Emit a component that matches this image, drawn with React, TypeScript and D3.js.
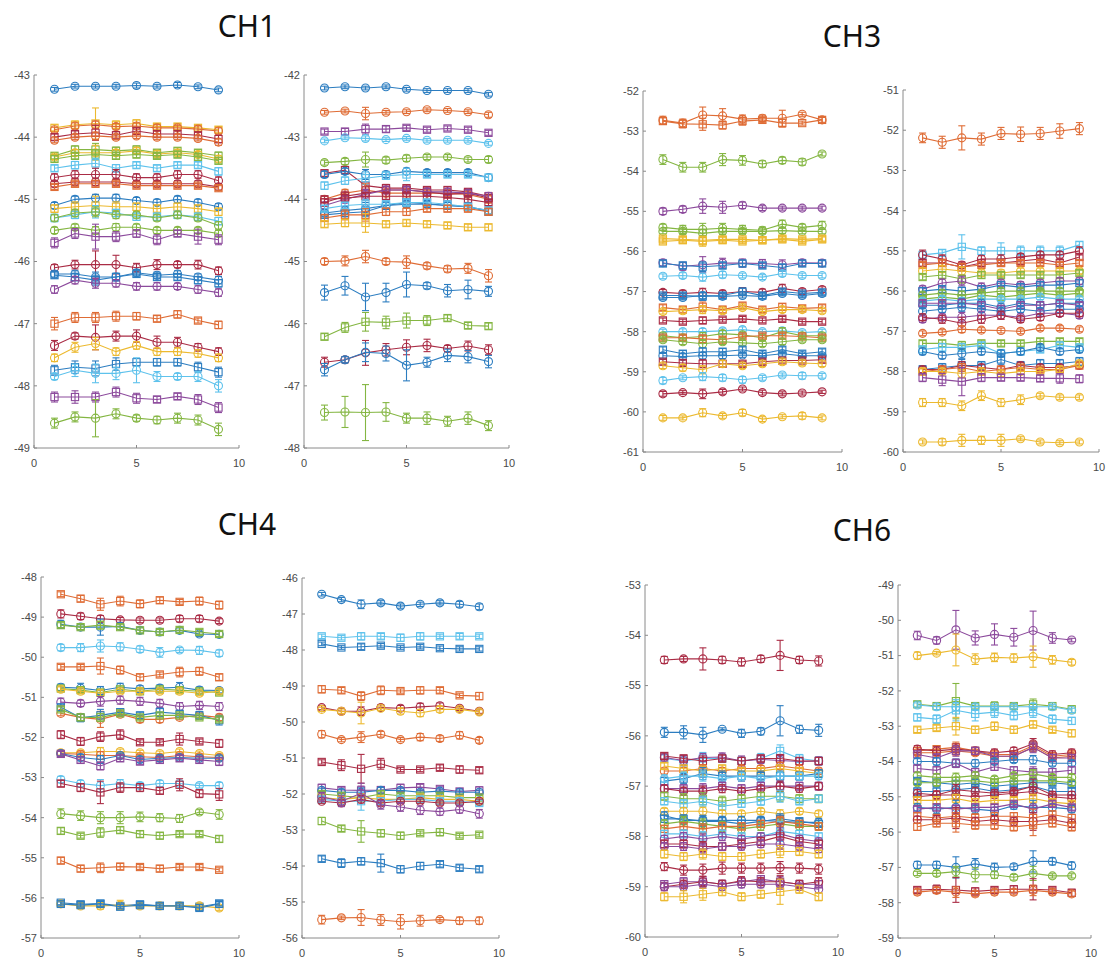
import React from 'react';
import * as d3 from 'd3';

const trials = [1, 2, 3, 4, 5, 6, 7, 8, 9];
const xTicks = [0, 5, 10];

const palette: Record<string, string> = {
  b: '#2c7dc0', o: '#df6c35', y: '#ecb92f', p: '#8c4a9c',
  g: '#84b642', c: '#5ec2ec', r: '#aa2c45',
};

// CH1 left
const ch1aColors = 'byorogygcrrobycggprbbporybcpg';
const ch1aMarks = 'osososossoosossoosoososoososo';
const ch1aMeans = [
  [-43.23, -43.18, -43.18, -43.18, -43.17, -43.18, -43.16, -43.19, -43.24],
  [-43.85, -43.8, -43.78, -43.8, -43.78, -43.83, -43.83, -43.85, -43.88],
  [-43.88, -43.82, -43.8, -43.83, -43.82, -43.85, -43.85, -43.87, -43.9],
  [-44.0, -43.95, -43.93, -43.97, -43.9, -43.95, -43.95, -43.97, -44.03],
  [-44.05, -44.0, -43.98, -44.0, -43.98, -44.0, -44.0, -44.02, -44.08],
  [-44.3, -44.2, -44.2, -44.22, -44.2, -44.25, -44.22, -44.25, -44.3],
  [-44.32, -44.25, -44.25, -44.25, -44.22, -44.27, -44.25, -44.28, -44.35],
  [-44.35, -44.3, -44.28, -44.3, -44.28, -44.3, -44.28, -44.32, -44.38],
  [-44.5, -44.45, -44.42, -44.5, -44.45, -44.5, -44.45, -44.45, -44.55],
  [-44.65, -44.6, -44.6, -44.6, -44.65, -44.65, -44.6, -44.6, -44.7],
  [-44.75, -44.72, -44.72, -44.72, -44.75, -44.75, -44.75, -44.75, -44.8],
  [-44.8, -44.75, -44.75, -44.75, -44.78, -44.78, -44.78, -44.78, -44.82],
  [-45.1, -45.0, -44.98, -44.98, -45.02, -45.05, -45.0, -45.05, -45.12],
  [-45.15, -45.12, -45.1, -45.12, -45.12, -45.15, -45.12, -45.15, -45.2],
  [-45.3, -45.25, -45.2, -45.22, -45.28, -45.28, -45.25, -45.28, -45.35],
  [-45.3, -45.22, -45.2, -45.25, -45.25, -45.3, -45.25, -45.3, -45.42],
  [-45.5, -45.45, -45.5, -45.45, -45.45, -45.5, -45.5, -45.5, -45.55],
  [-45.7, -45.55, -45.6, -45.6, -45.55, -45.65, -45.55, -45.6, -45.65],
  [-46.1, -46.05, -46.05, -46.05, -46.1, -46.05, -46.05, -46.05, -46.15],
  [-46.2, -46.2, -46.25, -46.25, -46.18, -46.22, -46.2, -46.25, -46.3],
  [-46.22, -46.25, -46.3, -46.25, -46.2, -46.25, -46.25, -46.3, -46.35],
  [-46.45, -46.3, -46.35, -46.35, -46.4, -46.4, -46.4, -46.45, -46.5],
  [-47.0, -46.9, -46.9, -46.88, -46.88, -46.92, -46.85, -46.95, -47.02],
  [-47.35, -47.2, -47.22, -47.2, -47.2, -47.3, -47.3, -47.38, -47.45],
  [-47.55, -47.38, -47.32, -47.45, -47.35, -47.45, -47.45, -47.48, -47.55],
  [-47.75, -47.7, -47.72, -47.65, -47.62, -47.62, -47.62, -47.7, -47.78],
  [-47.85, -47.75, -47.8, -47.8, -47.75, -47.85, -47.85, -47.85, -48.0],
  [-48.18, -48.18, -48.18, -48.1, -48.2, -48.22, -48.17, -48.22, -48.35],
  [-48.6, -48.5, -48.52, -48.45, -48.52, -48.55, -48.52, -48.55, -48.7],
];
const ch1aErrs = [
  [0.03, 0.03, 0.03, 0.03, 0.04, 0.03, 0.04, 0.03, 0.03],
  [0.05, 0.06, 0.25, 0.06, 0.06, 0.05, 0.05, 0.05, 0.05],
  [0.04, 0.05, 0.06, 0.05, 0.05, 0.05, 0.04, 0.05, 0.05],
  [0.05, 0.05, 0.12, 0.06, 0.05, 0.05, 0.05, 0.05, 0.06],
  [0.04, 0.04, 0.06, 0.04, 0.04, 0.04, 0.04, 0.04, 0.05],
  [0.05, 0.06, 0.1, 0.06, 0.06, 0.05, 0.05, 0.05, 0.06],
  [0.04, 0.05, 0.12, 0.05, 0.05, 0.05, 0.05, 0.05, 0.05],
  [0.05, 0.05, 0.08, 0.05, 0.05, 0.04, 0.05, 0.05, 0.05],
  [0.05, 0.06, 0.08, 0.06, 0.05, 0.05, 0.05, 0.05, 0.06],
  [0.06, 0.06, 0.1, 0.08, 0.06, 0.06, 0.06, 0.06, 0.06],
  [0.05, 0.05, 0.06, 0.05, 0.05, 0.05, 0.05, 0.05, 0.05],
  [0.04, 0.04, 0.05, 0.04, 0.04, 0.04, 0.04, 0.04, 0.04],
  [0.05, 0.05, 0.06, 0.06, 0.05, 0.05, 0.05, 0.05, 0.05],
  [0.06, 0.08, 0.15, 0.08, 0.06, 0.06, 0.06, 0.06, 0.06],
  [0.06, 0.06, 0.1, 0.06, 0.06, 0.06, 0.06, 0.06, 0.06],
  [0.05, 0.06, 0.08, 0.06, 0.05, 0.05, 0.05, 0.05, 0.06],
  [0.05, 0.05, 0.06, 0.06, 0.05, 0.05, 0.05, 0.05, 0.05],
  [0.08, 0.08, 0.2, 0.08, 0.06, 0.08, 0.05, 0.12, 0.08],
  [0.05, 0.07, 0.22, 0.15, 0.07, 0.08, 0.05, 0.07, 0.06],
  [0.05, 0.05, 0.08, 0.06, 0.05, 0.05, 0.05, 0.05, 0.06],
  [0.05, 0.06, 0.08, 0.06, 0.05, 0.05, 0.05, 0.06, 0.06],
  [0.06, 0.06, 0.08, 0.06, 0.06, 0.06, 0.05, 0.06, 0.06],
  [0.1, 0.08, 0.08, 0.08, 0.06, 0.05, 0.06, 0.04, 0.06],
  [0.08, 0.05, 0.2, 0.08, 0.1, 0.1, 0.08, 0.06, 0.06],
  [0.06, 0.08, 0.1, 0.06, 0.06, 0.06, 0.06, 0.06, 0.06],
  [0.08, 0.1, 0.12, 0.1, 0.06, 0.06, 0.06, 0.08, 0.08],
  [0.05, 0.1, 0.15, 0.1, 0.2, 0.08, 0.05, 0.08, 0.1],
  [0.08, 0.1, 0.08, 0.08, 0.08, 0.05, 0.05, 0.08, 0.08],
  [0.08, 0.08, 0.3, 0.08, 0.05, 0.06, 0.08, 0.08, 0.1],
];

// CH1 right
const ch1bColors = 'bopcgrbcorprbbcoyobgrbg';
const ch1bMarks = 'oosoososososossssoosooo';
const ch1bMeans = [
  [-42.21, -42.19, -42.21, -42.19, -42.23, -42.25, -42.25, -42.25, -42.31],
  [-42.6, -42.58, -42.62, -42.6, -42.59, -42.56, -42.57, -42.59, -42.64],
  [-42.91, -42.91, -42.87, -42.87, -42.85, -42.88, -42.86, -42.88, -42.93],
  [-43.06, -43.01, -43.02, -43.04, -43.02, -43.05, -43.05, -43.05, -43.1],
  [-43.41, -43.39, -43.36, -43.37, -43.34, -43.32, -43.32, -43.36, -43.36],
  [-43.58, -43.53, -43.78, -43.82, -43.82, -43.85, -43.85, -43.88, -43.95],
  [-43.6, -43.55, -43.6, -43.6, -43.55, -43.57, -43.57, -43.57, -43.65],
  [-43.78, -43.7, -43.66, -43.62, -43.6, -43.6, -43.6, -43.6, -43.65],
  [-44.0, -43.9, -43.85, -43.9, -43.9, -43.9, -43.9, -43.92, -44.0],
  [-44.05, -43.95, -43.9, -43.85, -43.85, -43.88, -43.92, -43.9, -43.98],
  [-44.1, -44.0, -43.92, -43.85, -43.85, -43.88, -43.88, -43.9, -43.95],
  [-44.0, -43.98, -43.95, -43.95, -43.95, -43.95, -43.97, -44.0, -44.05],
  [-44.22, -44.18, -44.15, -44.1, -44.08, -44.08, -44.1, -44.12, -44.18],
  [-44.25, -44.22, -44.2, -44.1, -44.05, -44.07, -44.1, -44.12, -44.2],
  [-44.15, -44.1, -44.08, -44.08, -44.05, -44.05, -44.08, -44.12, -44.18],
  [-44.3, -44.25, -44.25, -44.2, -44.2, -44.15, -44.15, -44.15, -44.2],
  [-44.4, -44.38, -44.38, -44.4, -44.38, -44.4, -44.42, -44.45, -44.45],
  [-45.0, -44.99, -44.92, -45.0, -45.01, -45.07, -45.12, -45.11, -45.23],
  [-45.5, -45.39, -45.57, -45.5, -45.37, -45.39, -45.47, -45.45, -45.48],
  [-46.21, -46.06, -45.97, -45.98, -45.95, -45.95, -45.91, -46.03, -46.04],
  [-46.62, -46.58, -46.47, -46.42, -46.38, -46.35, -46.4, -46.36, -46.42],
  [-46.74, -46.58, -46.46, -46.48, -46.67, -46.62, -46.51, -46.53, -46.61],
  [-47.43, -47.42, -47.43, -47.42, -47.52, -47.52, -47.57, -47.52, -47.64],
];
const ch1bErrs = [
  [0.03, 0.03, 0.03, 0.03, 0.03, 0.03, 0.03, 0.03, 0.03],
  [0.03, 0.03, 0.1, 0.03, 0.03, 0.03, 0.03, 0.03, 0.04],
  [0.04, 0.05, 0.08, 0.05, 0.04, 0.04, 0.04, 0.04, 0.04],
  [0.03, 0.03, 0.04, 0.03, 0.03, 0.03, 0.03, 0.03, 0.03],
  [0.04, 0.05, 0.12, 0.05, 0.05, 0.04, 0.04, 0.04, 0.05],
  [0.05, 0.06, 0.1, 0.06, 0.05, 0.05, 0.05, 0.05, 0.06],
  [0.05, 0.05, 0.08, 0.05, 0.05, 0.05, 0.05, 0.05, 0.05],
  [0.06, 0.06, 0.1, 0.06, 0.1, 0.05, 0.05, 0.05, 0.05],
  [0.05, 0.06, 0.1, 0.06, 0.06, 0.05, 0.05, 0.05, 0.06],
  [0.06, 0.08, 0.1, 0.06, 0.06, 0.06, 0.06, 0.06, 0.06],
  [0.05, 0.06, 0.08, 0.06, 0.05, 0.05, 0.05, 0.05, 0.06],
  [0.05, 0.05, 0.06, 0.05, 0.05, 0.05, 0.05, 0.05, 0.05],
  [0.05, 0.06, 0.1, 0.06, 0.05, 0.05, 0.05, 0.05, 0.05],
  [0.05, 0.06, 0.08, 0.06, 0.05, 0.05, 0.05, 0.05, 0.05],
  [0.05, 0.05, 0.08, 0.05, 0.05, 0.05, 0.05, 0.05, 0.05],
  [0.05, 0.08, 0.1, 0.06, 0.06, 0.05, 0.05, 0.05, 0.05],
  [0.05, 0.06, 0.15, 0.05, 0.05, 0.05, 0.05, 0.05, 0.05],
  [0.05, 0.08, 0.1, 0.05, 0.1, 0.05, 0.05, 0.08, 0.1],
  [0.12, 0.15, 0.22, 0.15, 0.2, 0.05, 0.1, 0.15, 0.08],
  [0.05, 0.08, 0.15, 0.1, 0.12, 0.08, 0.05, 0.05, 0.05],
  [0.08, 0.05, 0.2, 0.1, 0.12, 0.1, 0.05, 0.08, 0.08],
  [0.1, 0.05, 0.15, 0.12, 0.25, 0.08, 0.1, 0.1, 0.1],
  [0.12, 0.25, 0.45, 0.15, 0.08, 0.1, 0.08, 0.1, 0.08],
];

// CH3 left
const ch3aColors = 'oogpggyypbcrbboyrcgogbbrycry';
const ch3aMarks = 'osoooossosoosososoosososoooo';
const ch3aMeans = [
  [-52.73, -52.8, -52.6, -52.62, -52.7, -52.68, -52.68, -52.58, -52.72],
  [-52.75, -52.82, -52.83, -52.85, -52.75, -52.72, -52.8, -52.8, -52.72],
  [-53.71, -53.9, -53.9, -53.71, -53.73, -53.82, -53.73, -53.77, -53.57],
  [-55.0, -54.95, -54.87, -54.9, -54.85, -54.92, -54.92, -54.92, -54.92],
  [-55.4, -55.45, -55.45, -55.42, -55.45, -55.47, -55.32, -55.4, -55.35],
  [-55.5, -55.5, -55.55, -55.5, -55.5, -55.5, -55.48, -55.5, -55.5],
  [-55.68, -55.7, -55.72, -55.7, -55.7, -55.72, -55.68, -55.7, -55.68],
  [-55.75, -55.72, -55.75, -55.72, -55.75, -55.72, -55.7, -55.75, -55.7],
  [-56.28, -56.37, -56.33, -56.29, -56.29, -56.3, -56.33, -56.28, -56.29],
  [-56.3, -56.35, -56.38, -56.35, -56.3, -56.35, -56.4, -56.3, -56.3],
  [-56.62, -56.6, -56.64, -56.58, -56.6, -56.64, -56.55, -56.6, -56.6],
  [-57.02, -57.05, -57.02, -57.05, -57.0, -57.02, -56.92, -57.0, -56.95],
  [-57.1, -57.1, -57.12, -57.1, -57.0, -57.1, -57.0, -57.05, -57.02],
  [-57.15, -57.15, -57.1, -57.12, -57.1, -57.12, -57.05, -57.1, -57.05],
  [-57.4, -57.45, -57.38, -57.45, -57.35, -57.45, -57.38, -57.42, -57.4],
  [-57.5, -57.48, -57.45, -57.48, -57.4, -57.5, -57.45, -57.45, -57.48],
  [-57.72, -57.75, -57.72, -57.7, -57.68, -57.72, -57.68, -57.75, -57.75],
  [-58.0, -58.0, -58.0, -57.98, -57.95, -58.0, -57.98, -58.02, -58.0],
  [-58.1, -58.15, -58.12, -58.05, -58.08, -58.15, -58.0, -58.1, -58.1],
  [-58.15, -58.15, -58.18, -58.2, -58.12, -58.1, -58.1, -58.12, -58.15],
  [-58.2, -58.25, -58.3, -58.25, -58.28, -58.3, -58.25, -58.2, -58.2],
  [-58.45, -58.55, -58.5, -58.5, -58.45, -58.55, -58.45, -58.55, -58.5],
  [-58.6, -58.62, -58.6, -58.6, -58.58, -58.6, -58.55, -58.6, -58.6],
  [-58.75, -58.78, -58.8, -58.8, -58.8, -58.75, -58.72, -58.72, -58.7],
  [-58.85, -58.9, -58.95, -58.8, -58.85, -58.8, -58.75, -58.78, -58.8],
  [-59.22, -59.15, -59.12, -59.15, -59.2, -59.15, -59.08, -59.1, -59.1],
  [-59.55, -59.52, -59.55, -59.5, -59.43, -59.52, -59.55, -59.53, -59.5],
  [-60.15, -60.15, -60.02, -60.1, -60.02, -60.18, -60.12, -60.1, -60.15],
];
const ch3aErrs = [
  [0.1, 0.1, 0.2, 0.18, 0.1, 0.08, 0.2, 0.05, 0.08],
  [0.08, 0.1, 0.15, 0.1, 0.1, 0.06, 0.1, 0.05, 0.06],
  [0.12, 0.12, 0.12, 0.15, 0.12, 0.08, 0.08, 0.08, 0.05],
  [0.08, 0.08, 0.18, 0.15, 0.08, 0.06, 0.05, 0.05, 0.05],
  [0.08, 0.1, 0.15, 0.12, 0.1, 0.08, 0.1, 0.08, 0.1],
  [0.06, 0.08, 0.1, 0.08, 0.07, 0.06, 0.07, 0.06, 0.06],
  [0.06, 0.06, 0.1, 0.06, 0.06, 0.06, 0.06, 0.06, 0.06],
  [0.06, 0.08, 0.12, 0.08, 0.06, 0.06, 0.06, 0.06, 0.06],
  [0.08, 0.1, 0.2, 0.12, 0.1, 0.1, 0.12, 0.08, 0.08],
  [0.07, 0.08, 0.12, 0.08, 0.08, 0.07, 0.08, 0.07, 0.07],
  [0.06, 0.07, 0.1, 0.08, 0.06, 0.06, 0.07, 0.06, 0.06],
  [0.07, 0.08, 0.1, 0.08, 0.1, 0.08, 0.1, 0.07, 0.07],
  [0.06, 0.07, 0.1, 0.07, 0.08, 0.07, 0.07, 0.06, 0.06],
  [0.06, 0.06, 0.08, 0.06, 0.06, 0.06, 0.06, 0.06, 0.06],
  [0.07, 0.08, 0.12, 0.08, 0.07, 0.07, 0.08, 0.07, 0.07],
  [0.06, 0.07, 0.1, 0.07, 0.06, 0.06, 0.07, 0.06, 0.06],
  [0.06, 0.06, 0.08, 0.06, 0.06, 0.06, 0.06, 0.06, 0.06],
  [0.06, 0.07, 0.08, 0.07, 0.07, 0.06, 0.07, 0.06, 0.06],
  [0.07, 0.08, 0.1, 0.08, 0.07, 0.07, 0.1, 0.07, 0.07],
  [0.06, 0.06, 0.1, 0.06, 0.06, 0.06, 0.06, 0.06, 0.06],
  [0.06, 0.07, 0.1, 0.07, 0.06, 0.07, 0.07, 0.06, 0.06],
  [0.07, 0.08, 0.1, 0.08, 0.07, 0.08, 0.07, 0.07, 0.07],
  [0.06, 0.07, 0.08, 0.07, 0.06, 0.06, 0.06, 0.06, 0.06],
  [0.06, 0.07, 0.1, 0.08, 0.06, 0.06, 0.06, 0.06, 0.06],
  [0.07, 0.08, 0.1, 0.08, 0.07, 0.07, 0.07, 0.07, 0.07],
  [0.08, 0.05, 0.1, 0.08, 0.08, 0.06, 0.05, 0.08, 0.06],
  [0.06, 0.05, 0.12, 0.06, 0.05, 0.06, 0.05, 0.05, 0.04],
  [0.06, 0.05, 0.1, 0.06, 0.08, 0.06, 0.05, 0.08, 0.05],
];

// CH3 right
const ch3bColors = 'ocrroygpbggcbpbprogcbbroypyy';
const ch3bMarks = 'osossosososoosoooossosososoo';
const ch3bMeans = [
  [-52.19, -52.3, -52.19, -52.22, -52.08, -52.1, -52.08, -52.02, -51.96],
  [-55.1, -55.05, -54.9, -55.0, -55.0, -55.0, -55.0, -55.0, -54.85],
  [-55.1, -55.2, -55.35, -55.2, -55.2, -55.15, -55.1, -55.1, -55.0],
  [-55.3, -55.3, -55.4, -55.3, -55.3, -55.25, -55.2, -55.3, -55.15],
  [-55.35, -55.3, -55.4, -55.35, -55.3, -55.3, -55.3, -55.35, -55.3],
  [-55.5, -55.45, -55.5, -55.55, -55.55, -55.5, -55.5, -55.5, -55.5],
  [-55.65, -55.6, -55.7, -55.6, -55.6, -55.6, -55.6, -55.6, -55.55],
  [-55.95, -55.8, -55.75, -55.9, -55.8, -55.85, -55.8, -55.75, -55.75],
  [-56.0, -55.95, -56.0, -55.95, -55.85, -55.9, -55.85, -55.85, -55.8],
  [-56.1, -56.05, -56.1, -56.05, -56.0, -56.0, -56.0, -56.0, -56.0],
  [-56.2, -56.15, -56.2, -56.1, -56.15, -56.1, -56.05, -56.1, -56.05],
  [-56.25, -56.2, -56.25, -56.2, -56.2, -56.2, -56.15, -56.2, -56.2],
  [-56.35, -56.35, -56.3, -56.3, -56.4, -56.3, -56.35, -56.3, -56.3],
  [-56.3, -56.3, -56.3, -56.35, -56.45, -56.35, -56.35, -56.3, -56.35],
  [-56.5, -56.45, -56.4, -56.45, -56.5, -56.45, -56.5, -56.45, -56.45],
  [-56.7, -56.65, -56.65, -56.6, -56.6, -56.65, -56.55, -56.55, -56.6],
  [-56.65, -56.7, -56.8, -56.7, -56.6, -56.7, -56.65, -56.55, -56.55],
  [-57.05, -57.02, -56.95, -56.97, -56.98, -57.0, -56.92, -56.92, -56.95],
  [-57.3, -57.3, -57.35, -57.3, -57.3, -57.3, -57.25, -57.25, -57.25],
  [-57.45, -57.4, -57.4, -57.35, -57.55, -57.5, -57.45, -57.35, -57.4],
  [-57.5, -57.6, -57.55, -57.5, -57.55, -57.5, -57.4, -57.5, -57.45],
  [-57.95, -57.9, -57.85, -57.85, -57.7, -57.85, -57.8, -57.8, -57.75],
  [-57.95, -57.95, -57.85, -57.9, -57.95, -57.85, -57.9, -57.9, -57.85],
  [-58.0, -57.95, -57.9, -58.0, -57.95, -57.9, -57.95, -57.95, -57.85],
  [-58.0, -58.0, -58.05, -58.0, -58.05, -58.0, -58.0, -57.95, -57.8],
  [-58.15, -58.2, -58.25, -58.15, -58.15, -58.15, -58.17, -58.17, -58.18],
  [-58.77, -58.77, -58.85, -58.6, -58.77, -58.7, -58.6, -58.64, -58.64],
  [-59.75, -59.75, -59.71, -59.71, -59.71, -59.67, -59.75, -59.77, -59.75],
];
const ch3bErrs = [
  [0.12, 0.15, 0.3, 0.15, 0.15, 0.18, 0.15, 0.18, 0.15],
  [0.08, 0.08, 0.3, 0.1, 0.2, 0.12, 0.12, 0.12, 0.08],
  [0.12, 0.1, 0.08, 0.08, 0.1, 0.08, 0.08, 0.08, 0.1],
  [0.08, 0.08, 0.1, 0.08, 0.08, 0.08, 0.08, 0.08, 0.08],
  [0.06, 0.07, 0.08, 0.07, 0.06, 0.06, 0.06, 0.06, 0.06],
  [0.07, 0.08, 0.1, 0.08, 0.08, 0.07, 0.07, 0.07, 0.07],
  [0.07, 0.08, 0.1, 0.08, 0.07, 0.07, 0.07, 0.07, 0.07],
  [0.08, 0.1, 0.12, 0.1, 0.08, 0.08, 0.08, 0.08, 0.08],
  [0.08, 0.08, 0.1, 0.08, 0.08, 0.08, 0.08, 0.08, 0.08],
  [0.07, 0.07, 0.1, 0.08, 0.07, 0.07, 0.07, 0.07, 0.07],
  [0.07, 0.08, 0.1, 0.08, 0.07, 0.07, 0.07, 0.07, 0.07],
  [0.06, 0.07, 0.08, 0.07, 0.06, 0.06, 0.06, 0.06, 0.06],
  [0.08, 0.08, 0.12, 0.08, 0.1, 0.08, 0.08, 0.08, 0.08],
  [0.07, 0.08, 0.1, 0.08, 0.1, 0.08, 0.08, 0.07, 0.07],
  [0.08, 0.08, 0.1, 0.08, 0.08, 0.08, 0.08, 0.08, 0.08],
  [0.08, 0.08, 0.12, 0.1, 0.1, 0.08, 0.08, 0.08, 0.08],
  [0.08, 0.1, 0.15, 0.1, 0.1, 0.08, 0.08, 0.08, 0.08],
  [0.06, 0.06, 0.08, 0.06, 0.06, 0.06, 0.06, 0.06, 0.06],
  [0.07, 0.08, 0.1, 0.08, 0.07, 0.07, 0.07, 0.07, 0.07],
  [0.08, 0.1, 0.1, 0.08, 0.1, 0.08, 0.08, 0.08, 0.08],
  [0.08, 0.08, 0.12, 0.08, 0.08, 0.08, 0.08, 0.08, 0.08],
  [0.1, 0.1, 0.15, 0.1, 0.12, 0.1, 0.1, 0.1, 0.1],
  [0.08, 0.08, 0.1, 0.08, 0.08, 0.08, 0.08, 0.08, 0.08],
  [0.07, 0.07, 0.1, 0.07, 0.07, 0.07, 0.07, 0.07, 0.07],
  [0.07, 0.07, 0.1, 0.07, 0.07, 0.07, 0.07, 0.07, 0.07],
  [0.1, 0.15, 0.35, 0.1, 0.08, 0.08, 0.08, 0.12, 0.1],
  [0.1, 0.1, 0.12, 0.12, 0.1, 0.12, 0.06, 0.06, 0.06],
  [0.05, 0.08, 0.15, 0.1, 0.15, 0.05, 0.05, 0.05, 0.05],
];

// CH4 left
const ch4aColors = 'orbgcobgypobgryobpcrggobyb';
const ch4aMarks = 'soosososooosssooosososssos';
const ch4aMeans = [
  [-48.43, -48.54, -48.68, -48.6, -48.67, -48.58, -48.62, -48.6, -48.7],
  [-48.92, -48.98, -49.04, -49.07, -49.08, -49.08, -49.04, -49.04, -49.1],
  [-49.18, -49.25, -49.25, -49.23, -49.33, -49.37, -49.33, -49.42, -49.43],
  [-49.2, -49.25, -49.2, -49.25, -49.33, -49.37, -49.32, -49.37, -49.42],
  [-49.76, -49.76, -49.72, -49.74, -49.8, -49.88, -49.82, -49.83, -49.9],
  [-50.24, -50.24, -50.22, -50.32, -50.5, -50.43, -50.37, -50.35, -50.5],
  [-50.75, -50.77, -50.83, -50.75, -50.79, -50.77, -50.75, -50.82, -50.83],
  [-50.78, -50.82, -50.88, -50.8, -50.85, -50.8, -50.82, -50.85, -50.88],
  [-50.8, -50.85, -50.9, -50.85, -50.85, -50.85, -50.85, -50.9, -50.85],
  [-51.12, -51.15, -51.1, -51.07, -51.1, -51.15, -51.23, -51.2, -51.23],
  [-51.4, -51.5, -51.55, -51.42, -51.55, -51.55, -51.5, -51.45, -51.5],
  [-51.25, -51.51, -51.45, -51.37, -51.45, -51.37, -51.41, -51.45, -51.57],
  [-51.3, -51.5, -51.5, -51.4, -51.5, -51.45, -51.45, -51.5, -51.55],
  [-51.93, -52.1, -51.98, -51.93, -52.12, -52.12, -52.04, -52.1, -52.15],
  [-52.38, -52.38, -52.35, -52.35, -52.38, -52.4, -52.35, -52.4, -52.45],
  [-52.4, -52.42, -52.45, -52.45, -52.48, -52.5, -52.45, -52.48, -52.5],
  [-52.4, -52.5, -52.55, -52.45, -52.55, -52.52, -52.5, -52.52, -52.52],
  [-52.41, -52.56, -52.71, -52.52, -52.6, -52.56, -52.52, -52.56, -52.6],
  [-53.05, -53.15, -53.2, -53.15, -53.2, -53.15, -53.15, -53.2, -53.2],
  [-53.15, -53.25, -53.37, -53.25, -53.25, -53.33, -53.18, -53.4, -53.42],
  [-53.9, -53.95, -54.0, -54.0, -53.98, -54.0, -54.02, -53.86, -53.92],
  [-54.33, -54.45, -54.37, -54.31, -54.41, -54.45, -54.41, -54.41, -54.53],
  [-55.07, -55.27, -55.25, -55.22, -55.23, -55.27, -55.23, -55.23, -55.3],
  [-56.12, -56.16, -56.14, -56.2, -56.16, -56.2, -56.2, -56.22, -56.14],
  [-56.15, -56.2, -56.2, -56.18, -56.2, -56.2, -56.2, -56.2, -56.25],
  [-56.15, -56.18, -56.15, -56.22, -56.18, -56.2, -56.2, -56.25, -56.15],
];
const ch4aErrs = [
  [0.06, 0.08, 0.15, 0.12, 0.1, 0.08, 0.06, 0.1, 0.1],
  [0.1, 0.08, 0.08, 0.06, 0.06, 0.06, 0.08, 0.08, 0.06],
  [0.1, 0.06, 0.2, 0.08, 0.08, 0.08, 0.06, 0.06, 0.08],
  [0.06, 0.06, 0.1, 0.06, 0.06, 0.06, 0.06, 0.06, 0.06],
  [0.08, 0.1, 0.15, 0.1, 0.08, 0.12, 0.06, 0.1, 0.08],
  [0.06, 0.06, 0.2, 0.1, 0.08, 0.06, 0.12, 0.1, 0.08],
  [0.08, 0.12, 0.1, 0.1, 0.08, 0.08, 0.12, 0.08, 0.06],
  [0.06, 0.06, 0.08, 0.06, 0.06, 0.06, 0.06, 0.06, 0.06],
  [0.06, 0.06, 0.08, 0.06, 0.06, 0.06, 0.06, 0.06, 0.06],
  [0.1, 0.08, 0.12, 0.1, 0.1, 0.1, 0.1, 0.1, 0.1],
  [0.06, 0.08, 0.2, 0.06, 0.08, 0.08, 0.06, 0.06, 0.08],
  [0.08, 0.1, 0.15, 0.08, 0.08, 0.1, 0.08, 0.1, 0.12],
  [0.06, 0.08, 0.1, 0.06, 0.06, 0.06, 0.06, 0.06, 0.06],
  [0.1, 0.1, 0.12, 0.12, 0.06, 0.06, 0.15, 0.06, 0.1],
  [0.06, 0.06, 0.1, 0.06, 0.06, 0.06, 0.06, 0.06, 0.06],
  [0.06, 0.06, 0.1, 0.06, 0.06, 0.06, 0.06, 0.06, 0.06],
  [0.06, 0.08, 0.1, 0.06, 0.08, 0.08, 0.06, 0.06, 0.06],
  [0.06, 0.08, 0.1, 0.08, 0.08, 0.08, 0.08, 0.08, 0.1],
  [0.08, 0.08, 0.15, 0.1, 0.08, 0.08, 0.06, 0.06, 0.08],
  [0.08, 0.1, 0.28, 0.12, 0.1, 0.08, 0.15, 0.1, 0.15],
  [0.12, 0.12, 0.15, 0.15, 0.12, 0.1, 0.1, 0.06, 0.12],
  [0.08, 0.06, 0.12, 0.08, 0.08, 0.08, 0.06, 0.06, 0.08],
  [0.08, 0.08, 0.12, 0.08, 0.06, 0.08, 0.06, 0.06, 0.05],
  [0.05, 0.05, 0.06, 0.05, 0.05, 0.05, 0.05, 0.05, 0.05],
  [0.06, 0.06, 0.08, 0.12, 0.06, 0.06, 0.06, 0.06, 0.06],
  [0.05, 0.05, 0.06, 0.05, 0.05, 0.05, 0.05, 0.08, 0.05],
];

// CH4 right
const ch4bColors = 'bcboryorpbgycrpgbo';
const ch4bMarks = 'osssooossosssoosso';
const ch4bMeans = [
  [-46.45, -46.6, -46.73, -46.69, -46.78, -46.73, -46.69, -46.73, -46.8],
  [-47.62, -47.66, -47.62, -47.62, -47.66, -47.62, -47.62, -47.62, -47.62],
  [-47.83, -47.93, -47.91, -47.88, -47.93, -47.91, -47.95, -47.97, -47.97],
  [-49.09, -49.12, -49.28, -49.12, -49.14, -49.12, -49.12, -49.26, -49.28],
  [-49.6, -49.7, -49.7, -49.6, -49.62, -49.58, -49.55, -49.62, -49.7],
  [-49.65, -49.7, -49.75, -49.62, -49.7, -49.75, -49.65, -49.65, -49.72],
  [-50.34, -50.49, -50.42, -50.34, -50.49, -50.42, -50.46, -50.37, -50.51],
  [-51.11, -51.2, -51.3, -51.16, -51.32, -51.32, -51.27, -51.32, -51.34],
  [-51.83, -51.89, -51.9, -51.89, -51.83, -51.81, -51.86, -51.93, -51.9],
  [-51.9, -51.95, -51.95, -51.9, -51.9, -51.95, -51.92, -51.95, -51.95],
  [-52.0, -52.05, -52.1, -52.0, -52.05, -52.05, -52.05, -52.1, -52.1],
  [-52.1, -52.15, -52.1, -52.15, -52.15, -52.1, -52.15, -52.15, -52.2],
  [-52.15, -52.2, -52.2, -52.2, -52.15, -52.15, -52.2, -52.2, -52.25],
  [-52.2, -52.25, -52.15, -52.25, -52.2, -52.2, -52.25, -52.25, -52.2],
  [-52.08, -52.2, -51.98, -52.3, -52.36, -52.45, -52.49, -52.43, -52.55],
  [-52.75, -52.96, -53.04, -53.09, -53.16, -53.09, -53.06, -53.16, -53.13],
  [-53.8, -53.92, -53.87, -53.92, -54.09, -54.0, -53.95, -54.05, -54.09],
  [-55.49, -55.44, -55.43, -55.5, -55.55, -55.52, -55.49, -55.52, -55.52],
];
const ch4bErrs = [
  [0.05, 0.06, 0.12, 0.06, 0.06, 0.06, 0.06, 0.08, 0.08],
  [0.06, 0.06, 0.1, 0.08, 0.1, 0.1, 0.06, 0.08, 0.06],
  [0.05, 0.05, 0.08, 0.06, 0.05, 0.06, 0.06, 0.06, 0.06],
  [0.1, 0.08, 0.12, 0.12, 0.06, 0.1, 0.08, 0.06, 0.1],
  [0.06, 0.08, 0.12, 0.08, 0.08, 0.1, 0.08, 0.06, 0.06],
  [0.06, 0.06, 0.3, 0.06, 0.08, 0.1, 0.08, 0.06, 0.06],
  [0.1, 0.06, 0.15, 0.08, 0.06, 0.1, 0.08, 0.1, 0.08],
  [0.06, 0.15, 0.4, 0.15, 0.06, 0.06, 0.08, 0.1, 0.08],
  [0.1, 0.08, 0.2, 0.08, 0.1, 0.08, 0.06, 0.08, 0.1],
  [0.06, 0.08, 0.12, 0.08, 0.06, 0.06, 0.06, 0.06, 0.06],
  [0.06, 0.08, 0.1, 0.08, 0.06, 0.06, 0.06, 0.06, 0.06],
  [0.06, 0.08, 0.1, 0.08, 0.06, 0.06, 0.06, 0.06, 0.06],
  [0.08, 0.1, 0.25, 0.1, 0.08, 0.08, 0.08, 0.08, 0.08],
  [0.06, 0.08, 0.1, 0.08, 0.06, 0.06, 0.06, 0.06, 0.06],
  [0.12, 0.15, 0.2, 0.12, 0.12, 0.12, 0.1, 0.1, 0.12],
  [0.1, 0.08, 0.3, 0.1, 0.1, 0.06, 0.1, 0.06, 0.06],
  [0.08, 0.12, 0.1, 0.25, 0.1, 0.1, 0.08, 0.08, 0.08],
  [0.12, 0.05, 0.22, 0.15, 0.2, 0.15, 0.06, 0.1, 0.1],
];

// CH6 left
const ch6aColors = 'rbcproybcprgcybbgocprpyrprpy';
const ch6aMarks = 'oososossosossoosossosososoos';
const ch6aMeans = [
  [-54.49, -54.47, -54.47, -54.49, -54.53, -54.47, -54.4, -54.49, -54.51],
  [-55.93, -55.93, -55.98, -55.87, -55.95, -55.91, -55.7, -55.87, -55.89],
  [-56.45, -56.5, -56.45, -56.45, -56.5, -56.45, -56.3, -56.45, -56.5],
  [-56.43, -56.49, -56.43, -56.42, -56.5, -56.47, -56.49, -56.51, -56.5],
  [-56.4, -56.45, -56.5, -56.45, -56.5, -56.45, -56.45, -56.5, -56.5],
  [-56.7, -56.7, -56.65, -56.7, -56.65, -56.65, -56.6, -56.65, -56.7],
  [-56.6, -56.65, -56.7, -56.65, -56.7, -56.7, -56.65, -56.7, -56.75],
  [-56.9, -56.85, -56.75, -56.8, -56.8, -56.8, -56.8, -56.8, -56.75],
  [-56.85, -56.8, -56.8, -56.85, -56.8, -56.85, -56.8, -56.8, -56.8],
  [-57.05, -57.05, -57.05, -57.0, -57.05, -57.0, -57.0, -57.0, -57.0],
  [-57.05, -57.1, -57.1, -57.05, -57.1, -57.05, -57.0, -57.05, -57.0],
  [-57.2, -57.25, -57.25, -57.3, -57.25, -57.2, -57.2, -57.25, -57.25],
  [-57.3, -57.35, -57.3, -57.4, -57.35, -57.3, -57.2, -57.3, -57.25],
  [-57.5, -57.5, -57.5, -57.55, -57.55, -57.5, -57.55, -57.5, -57.55],
  [-57.59, -57.68, -57.68, -57.68, -57.68, -57.68, -57.7, -57.72, -57.72],
  [-57.65, -57.65, -57.7, -57.7, -57.75, -57.7, -57.65, -57.7, -57.75],
  [-57.75, -57.7, -57.75, -57.8, -57.85, -57.8, -57.75, -57.8, -57.8],
  [-57.85, -57.8, -57.85, -57.8, -57.8, -57.75, -57.7, -57.75, -57.8],
  [-57.95, -57.95, -58.0, -57.95, -58.0, -58.0, -57.9, -57.95, -58.0],
  [-58.05, -58.0, -58.05, -58.0, -58.05, -58.0, -57.95, -58.05, -58.1],
  [-58.15, -58.15, -58.2, -58.2, -58.15, -58.1, -58.0, -58.1, -58.15],
  [-58.2, -58.2, -58.25, -58.2, -58.2, -58.15, -58.15, -58.2, -58.25],
  [-58.35, -58.4, -58.35, -58.4, -58.4, -58.35, -58.3, -58.3, -58.35],
  [-58.6, -58.67, -58.67, -58.63, -58.63, -58.63, -58.62, -58.63, -58.65],
  [-58.95, -58.9, -58.9, -58.95, -58.9, -58.85, -58.9, -58.95, -58.95],
  [-59.0, -58.95, -58.9, -58.95, -58.88, -58.9, -58.9, -58.95, -58.9],
  [-59.0, -59.0, -58.95, -59.0, -58.95, -58.95, -58.95, -59.0, -59.05],
  [-59.2, -59.2, -59.15, -59.1, -59.2, -59.15, -59.1, -59.05, -59.2],
];
const ch6aErrs = [
  [0.07, 0.05, 0.22, 0.07, 0.08, 0.07, 0.3, 0.07, 0.1],
  [0.1, 0.13, 0.15, 0.03, 0.08, 0.07, 0.3, 0.08, 0.12],
  [0.08, 0.1, 0.12, 0.08, 0.08, 0.1, 0.12, 0.08, 0.08],
  [0.07, 0.1, 0.08, 0.08, 0.1, 0.08, 0.1, 0.08, 0.08],
  [0.06, 0.07, 0.1, 0.07, 0.07, 0.07, 0.08, 0.07, 0.07],
  [0.06, 0.07, 0.08, 0.07, 0.06, 0.06, 0.07, 0.06, 0.06],
  [0.06, 0.07, 0.1, 0.07, 0.06, 0.06, 0.07, 0.06, 0.06],
  [0.08, 0.1, 0.12, 0.1, 0.1, 0.1, 0.1, 0.08, 0.08],
  [0.07, 0.08, 0.1, 0.08, 0.07, 0.07, 0.08, 0.07, 0.07],
  [0.08, 0.08, 0.1, 0.08, 0.08, 0.08, 0.1, 0.08, 0.08],
  [0.07, 0.08, 0.1, 0.08, 0.07, 0.07, 0.1, 0.07, 0.07],
  [0.08, 0.1, 0.12, 0.1, 0.08, 0.08, 0.1, 0.08, 0.08],
  [0.07, 0.08, 0.1, 0.08, 0.07, 0.08, 0.12, 0.07, 0.07],
  [0.06, 0.07, 0.08, 0.07, 0.06, 0.06, 0.08, 0.06, 0.06],
  [0.08, 0.08, 0.1, 0.08, 0.08, 0.08, 0.12, 0.08, 0.08],
  [0.07, 0.08, 0.1, 0.08, 0.07, 0.07, 0.1, 0.07, 0.07],
  [0.08, 0.1, 0.1, 0.1, 0.08, 0.08, 0.12, 0.08, 0.08],
  [0.07, 0.07, 0.1, 0.07, 0.07, 0.07, 0.1, 0.07, 0.07],
  [0.07, 0.08, 0.1, 0.08, 0.07, 0.07, 0.2, 0.07, 0.07],
  [0.07, 0.08, 0.1, 0.08, 0.07, 0.07, 0.12, 0.07, 0.07],
  [0.08, 0.08, 0.1, 0.08, 0.08, 0.08, 0.25, 0.08, 0.08],
  [0.07, 0.08, 0.1, 0.08, 0.07, 0.07, 0.1, 0.07, 0.07],
  [0.08, 0.08, 0.1, 0.08, 0.08, 0.08, 0.12, 0.08, 0.08],
  [0.08, 0.1, 0.12, 0.12, 0.1, 0.1, 0.12, 0.1, 0.1],
  [0.07, 0.08, 0.1, 0.08, 0.07, 0.07, 0.1, 0.07, 0.07],
  [0.08, 0.08, 0.1, 0.08, 0.08, 0.08, 0.12, 0.08, 0.08],
  [0.07, 0.07, 0.08, 0.07, 0.07, 0.07, 0.1, 0.07, 0.07],
  [0.08, 0.12, 0.12, 0.08, 0.08, 0.08, 0.25, 0.08, 0.08],
];

// CH6 right
const ch6bColors = 'pygccyoorpbpgbgbrrybporobgro';
const ch6bMarks = 'oososssoososososoosossosooso';
const ch6bMeans = [
  [-50.43, -50.57, -50.27, -50.5, -50.4, -50.48, -50.29, -50.5, -50.56],
  [-51.0, -50.93, -50.84, -51.1, -51.05, -51.07, -51.03, -51.12, -51.19],
  [-52.38, -52.43, -52.29, -52.43, -52.43, -52.43, -52.38, -52.43, -52.52],
  [-52.4, -52.45, -52.45, -52.45, -52.45, -52.45, -52.45, -52.45, -52.55],
  [-52.75, -52.8, -52.55, -52.65, -52.6, -52.7, -52.6, -52.8, -52.85],
  [-53.1, -53.05, -53.0, -53.1, -53.0, -53.1, -52.95, -53.1, -53.2],
  [-53.7, -53.65, -53.6, -53.7, -53.8, -53.8, -53.55, -53.85, -53.8],
  [-53.75, -53.75, -53.7, -53.75, -53.85, -53.85, -53.6, -53.9, -53.85],
  [-53.65, -53.7, -53.65, -53.7, -53.75, -53.7, -53.5, -53.8, -53.75],
  [-53.8, -53.9, -53.7, -53.7, -53.85, -53.85, -53.6, -53.9, -53.9],
  [-54.0, -54.0, -54.05, -54.05, -54.0, -53.95, -53.95, -54.05, -54.05],
  [-54.2, -54.25, -54.05, -54.3, -54.15, -54.25, -54.3, -54.3, -54.25],
  [-54.4, -54.45, -54.45, -54.4, -54.5, -54.4, -54.35, -54.45, -54.45],
  [-54.55, -54.6, -54.65, -54.6, -54.7, -54.65, -54.6, -54.6, -54.65],
  [-54.6, -54.6, -54.55, -54.55, -54.6, -54.55, -54.55, -54.55, -54.6],
  [-54.85, -54.85, -54.8, -54.75, -54.85, -54.8, -54.7, -54.85, -54.85],
  [-54.9, -54.95, -54.8, -54.85, -54.9, -54.85, -54.7, -54.95, -54.95],
  [-55.0, -54.95, -54.95, -55.0, -54.95, -54.9, -54.85, -55.0, -55.05],
  [-55.1, -55.1, -55.05, -55.15, -55.1, -55.1, -55.05, -55.15, -55.2],
  [-55.3, -55.35, -55.3, -55.35, -55.4, -55.25, -55.3, -55.3, -55.35],
  [-55.35, -55.3, -55.35, -55.3, -55.3, -55.2, -55.35, -55.2, -55.3],
  [-55.55, -55.6, -55.55, -55.6, -55.55, -55.55, -55.6, -55.5, -55.6],
  [-55.65, -55.65, -55.6, -55.7, -55.65, -55.7, -55.7, -55.65, -55.75],
  [-55.85, -55.75, -55.75, -55.8, -55.8, -55.85, -55.8, -55.75, -55.85],
  [-56.93, -56.93, -57.0, -56.9, -57.0, -56.98, -56.83, -56.83, -56.95],
  [-57.17, -57.17, -57.12, -57.21, -57.21, -57.28, -57.17, -57.24, -57.24],
  [-57.64, -57.62, -57.64, -57.68, -57.64, -57.62, -57.62, -57.64, -57.72],
  [-57.7, -57.65, -57.7, -57.75, -57.7, -57.7, -57.65, -57.7, -57.75],
];
const ch6bErrs = [
  [0.12, 0.1, 0.55, 0.2, 0.3, 0.25, 0.55, 0.15, 0.05],
  [0.1, 0.05, 0.45, 0.15, 0.12, 0.12, 0.3, 0.12, 0.08],
  [0.08, 0.1, 0.5, 0.08, 0.12, 0.08, 0.15, 0.1, 0.1],
  [0.06, 0.08, 0.12, 0.08, 0.06, 0.06, 0.1, 0.06, 0.06],
  [0.1, 0.12, 0.3, 0.2, 0.15, 0.12, 0.15, 0.12, 0.1],
  [0.08, 0.08, 0.25, 0.1, 0.12, 0.1, 0.1, 0.08, 0.1],
  [0.1, 0.1, 0.15, 0.1, 0.1, 0.1, 0.12, 0.1, 0.1],
  [0.08, 0.08, 0.12, 0.08, 0.08, 0.08, 0.12, 0.08, 0.08],
  [0.1, 0.12, 0.15, 0.1, 0.1, 0.1, 0.15, 0.1, 0.1],
  [0.1, 0.12, 0.15, 0.1, 0.1, 0.1, 0.15, 0.1, 0.1],
  [0.08, 0.1, 0.12, 0.1, 0.08, 0.08, 0.12, 0.08, 0.08],
  [0.1, 0.1, 0.12, 0.1, 0.1, 0.1, 0.15, 0.1, 0.1],
  [0.08, 0.1, 0.12, 0.1, 0.08, 0.08, 0.12, 0.08, 0.08],
  [0.08, 0.1, 0.12, 0.1, 0.08, 0.08, 0.12, 0.08, 0.08],
  [0.08, 0.08, 0.1, 0.08, 0.08, 0.08, 0.1, 0.08, 0.08],
  [0.1, 0.1, 0.15, 0.1, 0.1, 0.1, 0.15, 0.1, 0.1],
  [0.1, 0.12, 0.15, 0.12, 0.1, 0.1, 0.2, 0.1, 0.1],
  [0.08, 0.1, 0.12, 0.1, 0.08, 0.08, 0.12, 0.08, 0.08],
  [0.08, 0.1, 0.12, 0.1, 0.08, 0.08, 0.12, 0.08, 0.08],
  [0.1, 0.12, 0.2, 0.12, 0.1, 0.1, 0.2, 0.1, 0.1],
  [0.08, 0.1, 0.12, 0.1, 0.08, 0.08, 0.15, 0.08, 0.08],
  [0.1, 0.1, 0.2, 0.12, 0.1, 0.1, 0.25, 0.1, 0.1],
  [0.1, 0.12, 0.3, 0.12, 0.12, 0.12, 0.25, 0.1, 0.12],
  [0.1, 0.1, 0.25, 0.12, 0.12, 0.12, 0.3, 0.1, 0.12],
  [0.1, 0.1, 0.3, 0.15, 0.12, 0.08, 0.3, 0.1, 0.1],
  [0.06, 0.08, 0.15, 0.2, 0.1, 0.08, 0.2, 0.06, 0.06],
  [0.08, 0.12, 0.35, 0.1, 0.08, 0.1, 0.3, 0.06, 0.1],
  [0.08, 0.08, 0.15, 0.08, 0.08, 0.08, 0.15, 0.08, 0.08],
];

const titles = [
  { label: 'CH1', x: 247, y: 37 },
  { label: 'CH3', x: 852, y: 47 },
  { label: 'CH4', x: 247, y: 535 },
  { label: 'CH6', x: 862, y: 541 },
];

const panels = [
  { means: ch1aMeans, errs: ch1aErrs, colors: ch1aColors, marks: ch1aMarks, yDomain: [-49, -43], px: [34, 239], py: [448, 75] },
  { means: ch1bMeans, errs: ch1bErrs, colors: ch1bColors, marks: ch1bMarks, yDomain: [-48, -42], px: [304, 509], py: [448, 75] },
  { means: ch3aMeans, errs: ch3aErrs, colors: ch3aColors, marks: ch3aMarks, yDomain: [-61, -52], px: [643, 842], py: [452, 91] },
  { means: ch3bMeans, errs: ch3bErrs, colors: ch3bColors, marks: ch3bMarks, yDomain: [-60, -51], px: [903, 1099], py: [452, 90] },
  { means: ch4aMeans, errs: ch4aErrs, colors: ch4aColors, marks: ch4aMarks, yDomain: [-57, -48], px: [41, 239], py: [938, 577] },
  { means: ch4bMeans, errs: ch4bErrs, colors: ch4bColors, marks: ch4bMarks, yDomain: [-56, -46], px: [302, 499], py: [938, 578] },
  { means: ch6aMeans, errs: ch6aErrs, colors: ch6aColors, marks: ch6aMarks, yDomain: [-60, -53], px: [645, 838], py: [937, 585] },
  { means: ch6bMeans, errs: ch6bErrs, colors: ch6bColors, marks: ch6bMarks, yDomain: [-59, -49], px: [898, 1091], py: [938, 585] },
];

const axisColor = '#8a8a8a';
const tickFont = '"Liberation Sans", Arial, sans-serif';

function Panel({ p }: { p: typeof panels[number] }) {
  const x = d3.scaleLinear().domain([0, 10]).range(p.px);
  const y = d3.scaleLinear().domain(p.yDomain).range(p.py);
  const line = d3.line<number>().x((_, i) => x(trials[i])).y(d => y(d));
  const yTicks = y.ticks(p.yDomain[1] - p.yDomain[0]);
  const x0 = p.px[0];
  const yb = p.py[0];
  const cap = 3.5;
  const r = 3.6;

  return (
    <g>
      {p.means.map((s, si) => {
        const col = palette[p.colors[si]] || palette.b;
        const mk = p.marks[si];
        return (
          <g key={si} stroke={col} fill="none" strokeWidth={1.1}>
            <path d={line(s) || ''} />
            {s.map((v, i) => {
              const cx = x(trials[i]);
              const cy = y(v);
              const e = p.errs[si][i];
              const y1 = y(v + e);
              const y2 = y(v - e);
              return (
                <g key={i}>
                  <line x1={cx} x2={cx} y1={y1} y2={y2} />
                  <line x1={cx - cap} x2={cx + cap} y1={y1} y2={y1} />
                  <line x1={cx - cap} x2={cx + cap} y1={y2} y2={y2} />
                  {mk === 's'
                    ? <rect x={cx - r} y={cy - r} width={2 * r} height={2 * r} />
                    : <circle cx={cx} cy={cy} r={r + 0.4} />}
                </g>
              );
            })}
          </g>
        );
      })}

      <g stroke={axisColor} strokeWidth={1} fill="none">
        <line x1={x0} x2={x0} y1={p.py[1]} y2={yb} />
        <line x1={x0} x2={p.px[1]} y1={yb} y2={yb} />
        {yTicks.map(t => (
          <line key={t} x1={x0} x2={x0 + 3} y1={y(t)} y2={y(t)} />
        ))}
        {xTicks.map(t => (
          <line key={t} x1={x(t)} x2={x(t)} y1={yb} y2={yb - 3} />
        ))}
      </g>
      <g fill="#4a4a4a" fontFamily={tickFont} fontSize={11}>
        {yTicks.map(t => (
          <text key={t} x={x0 - 4} y={y(t)} dy="0.35em" textAnchor="end">{t}</text>
        ))}
        {xTicks.map(t => (
          <text key={t} x={x(t)} y={yb + 19} textAnchor="middle">{t}</text>
        ))}
      </g>
    </g>
  );
}

export default function App() {
  return (
    <svg
      width={1113}
      height={958}
      style={{ position: 'absolute', left: 0, top: 0, background: '#fff' }}
    >
      <rect width={1113} height={958} fill="#fff" />
      {panels.map((p, i) => <Panel key={i} p={p} />)}
      {titles.map(t => (
        <text key={t.label} x={t.x} y={t.y} textAnchor="middle"
          fontFamily='"Noto Sans", "Open Sans", sans-serif' fontSize={30} fill="#111">
          {t.label}
        </text>
      ))}
    </svg>
  );
}
